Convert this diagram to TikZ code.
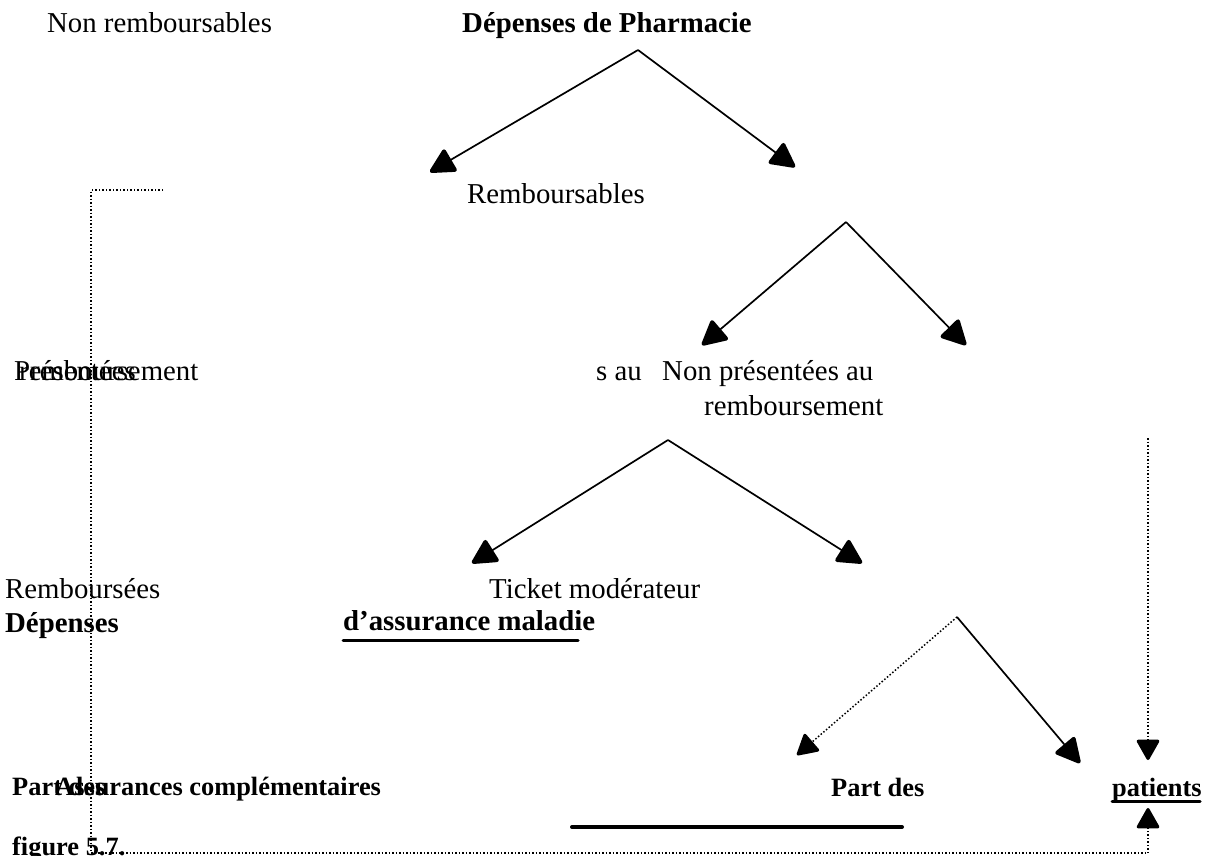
\documentclass[tikz,border=0pt]{standalone}
\usepackage{fontspec}
\setmainfont{Liberation Serif}
\usetikzlibrary{arrows.meta}
\begin{document}
\begin{tikzpicture}[x=1pt,y=-1pt,
  txt/.style={anchor=base west,inner sep=0pt,font=\fontsize{28.8}{34}\selectfont},
  btxt/.style={txt,font=\fontsize{28.8}{34}\selectfont\bfseries},
  sbtxt/.style={txt,font=\fontsize{26.4}{32}\selectfont\bfseries},
  arr/.style={line width=1.7pt,-{Triangle[length=27pt,width=27pt,line width=4pt,round]}},
  darr/.style={line width=1.5pt,dotted,-{Triangle[length=22pt,width=24pt,line width=3pt,round]}},
  dline/.style={line width=1.5pt,dotted}]
\useasboundingbox (0,0) rectangle (1206,855);
\clip (0,0) rectangle (1206,855);
% texts
\node[txt] (nonremb) at (47,32) {Non remboursables};
\node[btxt] (dep) at (462,32) {Dépenses de Pharmacie};
\node[txt] (remb) at (467,203) {Remboursables};
\node[txt] (pres) at (14,380) {Présentées};
\node[txt] (presb) at (19,380) {remboursement};
\node[txt] (sau) at (596,380) {s au};
\node[txt] (nonpres) at (662,380) {Non présentées au};
\node[txt] (nonpresb) at (704,415) {remboursement};
\node[txt] (rembs) at (5,598) {Remboursées};
\node[txt] (ticket) at (489,598) {Ticket modérateur};
\node[btxt] (depenses) at (5,632) {Dépenses};
\node[btxt] (assm) at (343,630) {d’assurance maladie};
\node[sbtxt] (partl) at (12,795) {Part des};
\node[sbtxt] (assc) at (55,795) {Assurances complémentaires};
\node[sbtxt] (partr) at (831,796) {Part des};
\node[sbtxt] (pat) at (1112,796) {patients};
\node[sbtxt] (fig) at (12,855) {figure 5.7.};
% underlines
\draw[line width=3pt,line cap=round] (343,640) -- (578,640);
\draw[line width=3pt,line cap=round] (1112,801) -- (1200,801);
\draw[line width=4pt,line cap=round] (572,827) -- (902,827);
% tree 1
\coordinate (a1) at (638,50);
\coordinate (a1l) at (430,172);
\coordinate (a1r) at (795,167);
\draw[arr] (a1) -- (a1l);
\draw[arr] (a1) -- (a1r);
% tree 2
\coordinate (a2) at (846,222);
\coordinate (a2l) at (702,345);
\coordinate (a2r) at (966,345);
\draw[arr] (a2) -- (a2l);
\draw[arr] (a2) -- (a2r);
% tree 3
\coordinate (a3) at (668,440);
\coordinate (a3l) at (472,563);
\coordinate (a3r) at (862,563);
\draw[arr] (a3) -- (a3l);
\draw[arr] (a3) -- (a3r);
% tree 4
\coordinate (a4) at (957,617);
\coordinate (a4l) at (797,755);
\coordinate (a4r) at (1080,763);
\draw[darr] (a4) -- (a4l);
\draw[arr] (a4) -- (a4r);
% dotted connectors
\coordinate (d1) at (163,190);
\coordinate (d2) at (91,853);
\coordinate (d3) at (1148,853);
\coordinate (d4) at (1148,808);
\coordinate (d5) at (1148,438);
\coordinate (d6) at (1148,760);
\draw[dline] (d1) -| (d2) -- (d3);
\draw[darr] (d3) -- (d4);
\draw[darr] (d5) -- (d6);
\end{tikzpicture}
\end{document}
